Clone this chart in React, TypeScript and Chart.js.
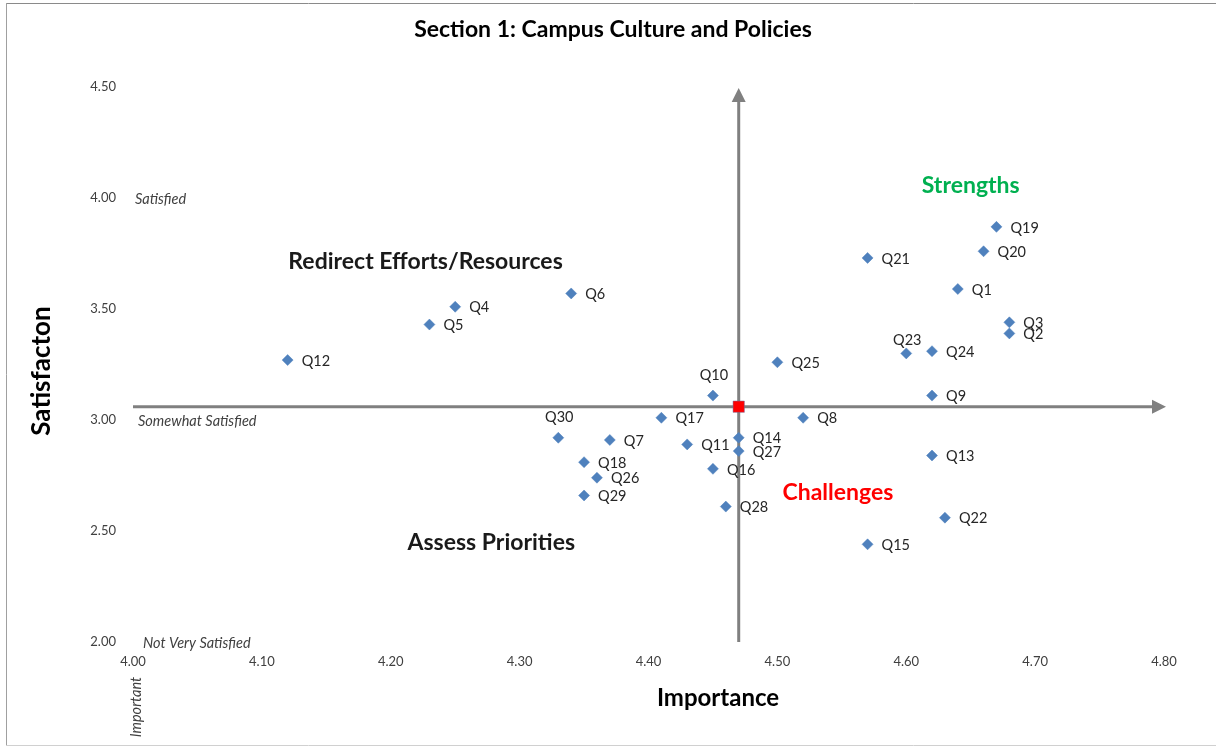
import React, { useEffect, useRef } from 'react';
import { Chart, registerables } from 'chart.js';

Chart.register(...registerables);

const TITLE = 'Section 1: Campus Culture and Policies';
const X_TITLE = 'Importance';
const Y_TITLE = 'Satisfacton';

const QUESTIONS = ['Q1', 'Q2', 'Q3', 'Q4', 'Q5', 'Q6', 'Q7', 'Q8', 'Q9', 'Q10',
  'Q11', 'Q12', 'Q13', 'Q14', 'Q15', 'Q16', 'Q17', 'Q18', 'Q19', 'Q20',
  'Q21', 'Q22', 'Q23', 'Q24', 'Q25', 'Q26', 'Q27', 'Q28', 'Q29', 'Q30'];
const IMPORTANCE = [4.64, 4.68, 4.68, 4.25, 4.23, 4.34, 4.37, 4.52, 4.62, 4.45,
  4.43, 4.12, 4.62, 4.47, 4.57, 4.45, 4.41, 4.35, 4.67, 4.66,
  4.57, 4.63, 4.60, 4.62, 4.50, 4.36, 4.47, 4.46, 4.35, 4.33];
const SATISFACTION = [3.59, 3.39, 3.44, 3.51, 3.43, 3.57, 2.91, 3.01, 3.11, 3.11,
  2.89, 3.27, 2.84, 2.92, 2.44, 2.78, 3.01, 2.81, 3.87, 3.76,
  3.73, 2.56, 3.30, 3.31, 3.26, 2.74, 2.86, 2.61, 2.66, 2.92];

const MEAN_IMPORTANCE = 4.47;
const MEAN_SATISFACTION = 3.06;

const X_MIN = 4.0;
const X_MAX = 4.8;
const X_STEP = 0.1;
const Y_MIN = 2.0;
const Y_MAX = 4.5;
const Y_STEP = 0.5;

const Y_SIDE_LABELS: [number, string][] = [[4.0, 'Satisfied'], [3.0, 'Somewhat Satisfied'], [2.0, 'Not Very Satisfied']];
const X_SIDE_LABEL = 'Important';

const QUADRANT_TEXT = ['Strengths', 'Redirect Efforts/Resources', 'Challenges', 'Assess Priorities'];
const QUADRANT_X = [4.65, 4.227, 4.547, 4.278];
const QUADRANT_Y = [4.054, 3.712, 2.671, 2.446];
const QUADRANT_COLOR = ['#00B050', '#1a1a1a', '#FF0000', '#1a1a1a'];

// labels drawn above their marker instead of to the right (vertical offset in px)
const ABOVE_LABELS: Record<string, number> = { Q10: -20, Q30: -20, Q23: -13 };

const FONT = 'Lato, "Open Sans", sans-serif';

const decorPlugin = {
  id: 'decor',
  beforeDraw(chart: any) {
    const { ctx, width, height } = chart;
    ctx.save();
    ctx.fillStyle = '#ffffff';
    ctx.fillRect(0, 0, width, height);
    ctx.lineWidth = 1;
    ctx.strokeStyle = '#8a8a8a';
    ctx.beginPath();
    ctx.moveTo(6, 3.5);
    ctx.lineTo(width, 3.5);
    ctx.stroke();
    ctx.strokeStyle = '#a0a0a0';
    ctx.beginPath();
    ctx.moveTo(6.5, 3);
    ctx.lineTo(6.5, height - 1);
    ctx.stroke();
    ctx.strokeStyle = '#d0d0d0';
    ctx.beginPath();
    ctx.moveTo(6, height - 1.5);
    ctx.lineTo(width, height - 1.5);
    ctx.stroke();

    // title
    ctx.fillStyle = '#000000';
    ctx.font = `bold 23px ${FONT}`;
    ctx.textAlign = 'center';
    ctx.textBaseline = 'middle';
    ctx.fillText(TITLE, 613, 30);

    // axis titles
    ctx.font = `bold 24px ${FONT}`;
    ctx.fillText(X_TITLE, 718, 698);
    ctx.save();
    ctx.translate(42, 371);
    ctx.rotate(-Math.PI / 2);
    ctx.font = `bold 26px ${FONT}`;
    ctx.fillText(Y_TITLE, 0, 0);
    ctx.restore();

    // side labels
    const xs = chart.scales.x;
    const ys = chart.scales.y;
    ctx.fillStyle = '#404040';
    ctx.font = `italic 14.5px ${FONT}`;
    ctx.textAlign = 'left';
    Y_SIDE_LABELS.forEach(([v, t]) => {
      ctx.fillText(t, xs.getPixelForValue(X_MIN) + (v === 2 ? 10 : v === 3 ? 5 : 2), ys.getPixelForValue(v) + 1);
    });
    ctx.save();
    ctx.translate(xs.getPixelForValue(X_MIN) + 3, 707);
    ctx.rotate(-Math.PI / 2);
    ctx.textAlign = 'center';
    ctx.fillText(X_SIDE_LABEL, 0, 0);
    ctx.restore();
    ctx.restore();
  },
  beforeDatasetsDraw(chart: any) {
    const { ctx } = chart;
    const xs = chart.scales.x;
    const ys = chart.scales.y;
    const mx = xs.getPixelForValue(MEAN_IMPORTANCE);
    const my = ys.getPixelForValue(MEAN_SATISFACTION);
    const x0 = xs.getPixelForValue(X_MIN);
    const x1 = xs.getPixelForValue(X_MAX) + 2;
    const y0 = ys.getPixelForValue(Y_MIN);
    const y1 = ys.getPixelForValue(Y_MAX) + 1;
    ctx.save();
    ctx.strokeStyle = '#808080';
    ctx.fillStyle = '#808080';
    ctx.lineWidth = 3;
    ctx.beginPath();
    ctx.moveTo(x0, my);
    ctx.lineTo(x1 - 12, my);
    ctx.stroke();
    ctx.beginPath();
    ctx.moveTo(x1, my);
    ctx.lineTo(x1 - 14, my - 7);
    ctx.lineTo(x1 - 14, my + 7);
    ctx.closePath();
    ctx.fill();
    ctx.beginPath();
    ctx.moveTo(mx, y0);
    ctx.lineTo(mx, y1 + 12);
    ctx.stroke();
    ctx.beginPath();
    ctx.moveTo(mx, y1);
    ctx.lineTo(mx - 7, y1 + 14);
    ctx.lineTo(mx + 7, y1 + 14);
    ctx.closePath();
    ctx.fill();

    // quadrant captions
    ctx.font = `bold 23px ${FONT}`;
    ctx.textAlign = 'center';
    ctx.textBaseline = 'middle';
    QUADRANT_TEXT.forEach((t, i) => {
      ctx.fillStyle = QUADRANT_COLOR[i];
      ctx.fillText(t, xs.getPixelForValue(QUADRANT_X[i]), ys.getPixelForValue(QUADRANT_Y[i]));
    });
    ctx.restore();
  },
  afterDatasetsDraw(chart: any) {
    const { ctx } = chart;
    const meta = chart.getDatasetMeta(0);
    ctx.save();
    ctx.font = `14.5px ${FONT}`;
    ctx.fillStyle = '#262626';
    ctx.textBaseline = 'middle';
    meta.data.forEach((pt: any, i: number) => {
      const q = QUESTIONS[i];
      if (q in ABOVE_LABELS) {
        ctx.textAlign = 'center';
        ctx.fillText(q, pt.x + 1, pt.y + ABOVE_LABELS[q]);
      } else {
        ctx.textAlign = 'left';
        ctx.fillText(q, pt.x + 14, pt.y + 1);
      }
    });
    ctx.restore();
  },
};

export default function App() {
  const ref = useRef<HTMLCanvasElement | null>(null);
  useEffect(() => {
    document.body.style.margin = '0';
    if (!ref.current) return;
    const chart = new Chart(ref.current, {
      type: 'scatter',
      data: {
        datasets: [
          {
            label: 'Questions',
            data: QUESTIONS.map((_, i) => ({ x: IMPORTANCE[i], y: SATISFACTION[i] })),
            pointStyle: 'rectRot',
            pointRadius: 5.5,
            pointBackgroundColor: '#4F81BD',
            pointBorderColor: '#4F81BD',
            pointBorderWidth: 0.5,
          },
          {
            label: 'Mean',
            data: [{ x: MEAN_IMPORTANCE, y: MEAN_SATISFACTION }],
            pointStyle: 'rect',
            pointRadius: 8,
            pointBackgroundColor: '#FF0000',
            pointBorderColor: '#7070a0',
            pointBorderWidth: 0.5,
          },
        ],
      },
      options: {
        responsive: false,
        animation: false,
        layout: { padding: { left: 0, right: 52, top: 87, bottom: 0 } },
        plugins: { legend: { display: false }, tooltip: { enabled: false }, title: { display: false } },
        scales: {
          x: {
            type: 'linear',
            min: X_MIN,
            max: X_MAX,
            grid: { display: false, drawTicks: false },
            border: { display: false },
            ticks: {
              stepSize: X_STEP,
              padding: 12,
              color: '#404040',
              font: { family: FONT, size: 13 },
              callback: (v: any) => Number(v).toFixed(2),
            },
            afterFit: (s: any) => { s.height = 105; },
          },
          y: {
            type: 'linear',
            min: Y_MIN,
            max: Y_MAX,
            grid: { display: false, drawTicks: false },
            border: { display: false },
            ticks: {
              stepSize: Y_STEP,
              padding: 17,
              color: '#404040',
              font: { family: FONT, size: 13 },
              callback: (v: any) => Number(v).toFixed(2),
            },
            afterFit: (s: any) => { s.width = 133; },
          },
        },
      },
      plugins: [decorPlugin],
    });
    return () => chart.destroy();
  }, []);
  return <canvas ref={ref} width={1216} height={747} style={{ display: 'block' }} />;
}
